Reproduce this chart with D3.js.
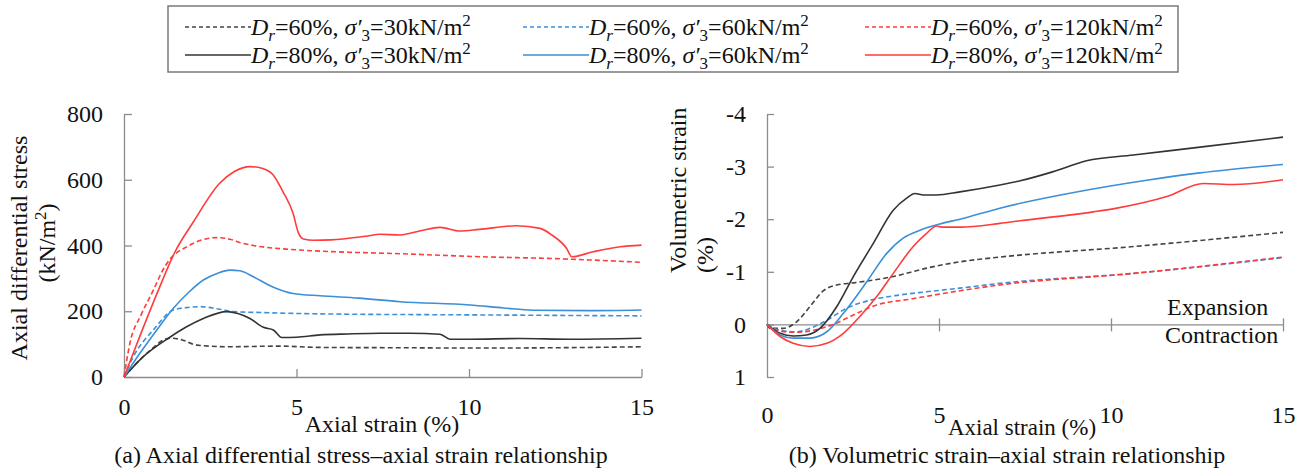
<!DOCTYPE html>
<html>
<head>
<meta charset="utf-8">
<script src="https://cdn.jsdelivr.net/npm/d3@7"></script>
<style>
  body { margin: 0; background: #fff; }
  svg text { font-family: "Liberation Serif", "Times New Roman", serif; }
</style>
</head>
<body>
<div id="main"></div>
<script>
const ctx = { w: 1309, h: 473, fs: 24 };

// series meta: [Dr, sigma'3]
const seriesKeys = ["60_30", "60_60", "60_120", "80_30", "80_60", "80_120"];
const seriesDr = [60, 60, 60, 80, 80, 80];
const seriesSigma = [30, 60, 120, 30, 60, 120];
const seriesColor = ["#444", "#3b8fd9", "#ff3b3b", "#333", "#3b8fd9", "#ff3b3b"];
const seriesDashed = [true, true, true, false, false, false];

const xTicks = [0, 5, 10, 15];
const stressTicks = [0, 200, 400, 600, 800];
const volTicks = [-4, -3, -2, -1, 0, 1];

// (a) axial strain (%) vs axial differential stress (kN/m2)
const stress60_30 = [[0,0],[0.66,72],[1.33,118],[1.62,115],[2.11,97],[3.07,92],[4.5,94],[5.68,90],[8,89],[10.3,88],[12.5,89],[15,92]];
const stress60_60 = [[0,0],[0.27,62],[0.85,143],[1.43,204],[1.8,211],[2.2,214],[2.78,206],[3.17,199],[4.0,196],[5.68,192],[10,189],[15,186]];
const stress60_120 = [[0,0],[0.17,102],[0.5,190],[0.85,264],[1.1,320],[1.33,358],[1.82,396],[2.2,415],[2.69,424],[3.07,419],[3.4,408],[3.75,400],[4.71,389],[5.68,383],[8,375],[10.3,366],[12.5,360],[15,349]];
const stress80_30 = [[0,0],[0.56,62],[1.33,121],[1.8,152],[2.3,178],[2.98,199],[3.3,193],[3.65,178],[4.04,151],[4.33,143],[4.57,120],[5.0,121],[5.68,128],[6.5,131],[7.42,133],[8.3,133],[9.16,130],[9.45,115],[10.0,115],[11.48,117],[12.94,115],[15,118]];
const stress80_60 = [[0,0],[0.46,72],[1.0,150],[1.43,209],[1.9,260],[2.3,295],[2.7,315],[3.07,325],[3.36,323],[3.75,305],[4.33,273],[4.9,254],[5.68,247],[6.8,240],[8.0,229],[10.03,219],[11.0,210],[11.86,203],[13.5,202],[15,204]];
const stress80_120 = [[0,0],[0.5,135],[1.0,265],[1.48,381],[2.0,470],[2.78,590],[3.2,625],[3.65,640],[4.0,635],[4.33,614],[4.6,565],[4.9,498],[5.05,440],[5.2,420],[5.5,416],[6.0,417],[7.0,428],[7.42,434],[8.0,432],[8.6,445],[9.16,455],[9.74,444],[10.3,449],[11.38,460],[12.06,452],[12.4,432],[12.83,391],[12.98,366],[13.6,381],[14.38,396],[15,401]];

// (b) axial strain (%) vs volumetric strain (%), negative = expansion
const vol60_30 = [[0,0],[0.09,0.075],[0.47,0.075],[0.86,-0.05],[1.25,-0.34],[1.64,-0.64],[2.03,-0.75],[2.51,-0.79],[3.67,-0.91],[4.64,-1.07],[5.61,-1.19],[6.77,-1.28],[10.65,-1.48],[15,-1.75]];
const vol60_60 = [[0,0],[0.38,0.11],[0.86,0.14],[1.25,0.075],[1.74,-0.08],[2.32,-0.31],[3.0,-0.46],[3.87,-0.56],[4.64,-0.62],[5.61,-0.69],[6.77,-0.78],[10.65,-0.97],[15,-1.27]];
const vol60_120 = [[0,0],[0.38,0.13],[0.86,0.15],[1.35,0.11],[1.93,0],[2.51,-0.18],[3.19,-0.37],[4.16,-0.48],[5.61,-0.64],[6.77,-0.75],[10.65,-0.97],[15,-1.28]];
const vol80_30 = [[0,0],[0.38,0.17],[0.76,0.22],[1.15,0.2],[1.54,0.075],[2.03,-0.34],[2.51,-0.91],[3.09,-1.54],[3.67,-2.17],[4.06,-2.4],[4.3,-2.49],[4.55,-2.46],[4.93,-2.46],[5.61,-2.52],[6.77,-2.65],[7.36,-2.73],[8.3,-2.9],[9.29,-3.11],[10.65,-3.22],[12.59,-3.37],[15,-3.56]];
const vol80_60 = [[0,0],[0.38,0.2],[0.76,0.26],[1.25,0.26],[1.74,0.14],[2.22,-0.21],[2.9,-0.81],[3.48,-1.35],[3.96,-1.64],[4.45,-1.79],[5.03,-1.91],[5.61,-2.0],[6.77,-2.21],[9.19,-2.54],[11.04,-2.74],[12.59,-2.88],[15,-3.04]];
const vol80_120 = [[0,0],[0.38,0.23],[0.76,0.36],[1.25,0.42],[1.74,0.36],[2.22,0.17],[2.7,-0.15],[3.19,-0.53],[3.67,-0.97],[4.25,-1.48],[4.64,-1.73],[4.93,-1.87],[5.08,-1.85],[5.61,-1.85],[6.77,-1.92],[7.36,-1.97],[9.49,-2.14],[10.17,-2.21],[11.62,-2.43],[12.69,-2.68],[13.56,-2.66],[15,-2.75]];

const stressSeries = [stress60_30, stress60_60, stress60_120, stress80_30, stress80_60, stress80_120];
const volSeries = [vol60_30, vol60_60, vol60_120, vol80_30, vol80_60, vol80_120];

const axisColor = "#8c8c8c";

function legendLabel(text, dr, sig) {
  text.append("tspan").attr("font-style", "italic").text("D");
  text.append("tspan").attr("font-style", "italic").attr("font-size", 17).attr("dy", 6).text("r");
  text.append("tspan").attr("dy", -6).text(`=${dr}%, `);
  text.append("tspan").attr("font-style", "italic").text("σ′");
  text.append("tspan").attr("font-size", 17).attr("dy", 6).text("3");
  text.append("tspan").attr("dy", -6).text(`=${sig}kN/m`);
  text.append("tspan").attr("font-size", 17).attr("dy", -9).text("2");
}

function addText(svg, x, y, str, anchor) {
  return svg.append("text").attr("x", x).attr("y", y)
    .attr("text-anchor", anchor || "start")
    .attr("font-size", ctx.fs).attr("fill", "#111").text(str);
}

function styleAxis(g) {
  g.attr("font-family", null);
  g.selectAll("path, line").attr("stroke", axisColor).attr("stroke-width", 1.3);
  g.selectAll("text").attr("fill", "#111").attr("font-size", ctx.fs);
}

function drawLines(g, data, x, y) {
  const line = d3.line().x(d => x(d[0])).y(d => y(d[1])).curve(d3.curveMonotoneX);
  g.selectAll("path.series")
    .data(data)
    .enter().append("path")
    .attr("class", "series")
    .attr("d", d => line(d))
    .attr("fill", "none")
    .attr("stroke", (d, i) => seriesColor[i])
    .attr("stroke-width", 1.6)
    .attr("stroke-dasharray", (d, i) => seriesDashed[i] ? "5,3" : null);
}

function createLegend(svg) {
  svg.append("rect")
    .attr("x", 168).attr("y", 6).attr("width", 1010).attr("height", 66)
    .attr("fill", "none").attr("stroke", "#7a7a7a").attr("stroke-width", 1.5);
  const colX = [185, 523, 865];
  const rowY = [27, 55];
  seriesKeys.forEach((k, i) => {
    const col = i % 3, row = Math.floor(i / 3);
    const g = svg.append("g").attr("transform", `translate(${colX[col]},${rowY[row]})`);
    g.append("line").attr("x1", 0).attr("x2", 66).attr("y1", 0).attr("y2", 0)
      .attr("stroke", seriesColor[i]).attr("stroke-width", 1.3)
      .attr("stroke-dasharray", seriesDashed[i] ? "4,3" : null);
    const t = g.append("text").attr("x", 66).attr("y", 8).attr("font-size", ctx.fs).attr("fill", "#111");
    legendLabel(t, seriesDr[i], seriesSigma[i]);
  });
}

function createStressChart(svg) {
  const x = d3.scaleLinear().domain([0, 15]).range([124, 641.5]);
  const y = d3.scaleLinear().domain([0, 800]).range([377, 114]);

  const gx = svg.append("g").attr("transform", `translate(0,${y(0)})`)
    .call(d3.axisBottom(x).tickValues(xTicks).tickSizeInner(-8).tickSizeOuter(0).tickPadding(21));
  styleAxis(gx);
  const gy = svg.append("g").attr("transform", `translate(${x(0)},0)`)
    .call(d3.axisLeft(y).tickValues(stressTicks).tickSizeInner(-8).tickSizeOuter(0).tickPadding(21));
  styleAxis(gy);

  drawLines(svg.append("g"), stressSeries, x, y);

  addText(svg, 0, 0, "Axial differential stress", "middle")
    .attr("transform", "translate(27,248) rotate(-90)");
  const unit = addText(svg, 0, 0, "", "middle")
    .attr("transform", "translate(55,243) rotate(-90)");
  unit.append("tspan").text("(kN/m");
  unit.append("tspan").attr("font-size", 17).attr("dy", -9).text("2");
  unit.append("tspan").attr("dy", 9).text(")");

  addText(svg, 382, 432, "Axial strain (%)", "middle");
  addText(svg, 361, 463, "(a) Axial differential stress–axial strain relationship", "middle");
}

function createVolChart(svg) {
  const x = d3.scaleLinear().domain([0, 15]).range([767, 1283]);
  const y = d3.scaleLinear().domain([-4, 1]).range([114, 377]);

  const gy = svg.append("g").attr("transform", `translate(${x(0)},0)`)
    .call(d3.axisLeft(y).tickValues(volTicks).tickSizeInner(-7).tickSizeOuter(0).tickPadding(21));
  styleAxis(gy);
  gy.selectAll("text").text(d => d < 0 ? "-" + Math.abs(d) : d);

  // zero line with crossing ticks, labels sit under the plot
  const gx = svg.append("g").attr("transform", `translate(0,${y(0)})`)
    .call(d3.axisBottom(x).tickValues(xTicks).tickSizeInner(7).tickSizeOuter(0).tickPadding(75));
  styleAxis(gx);
  gx.selectAll(".tick line").attr("y1", -6).attr("y2", 7)
    .attr("display", d => d === 0 ? "none" : null);

  drawLines(svg.append("g"), volSeries, x, y);

  // two-line title, both lines start at the same bottom point
  addText(svg, 0, 0, "Volumetric strain")
    .attr("transform", "translate(686,273) rotate(-90)");
  addText(svg, 0, 0, "(%)")
    .attr("transform", "translate(713,273) rotate(-90)");

  addText(svg, 1167, 315, "Expansion");
  addText(svg, 1165, 343, "Contraction");

  // title sits between the "5" and "10" labels
  addText(svg, 1022, 435, "Axial strain (%)", "middle").attr("font-size", 23);
  addText(svg, 1007, 463, "(b) Volumetric strain–axial strain relationship", "middle");
}

function createViz() {
  const svg = d3.select("#main").append("svg")
    .attr("width", ctx.w).attr("height", ctx.h);
  createLegend(svg);
  createStressChart(svg);
  createVolChart(svg);
}

createViz();
</script>
</body>
</html>
